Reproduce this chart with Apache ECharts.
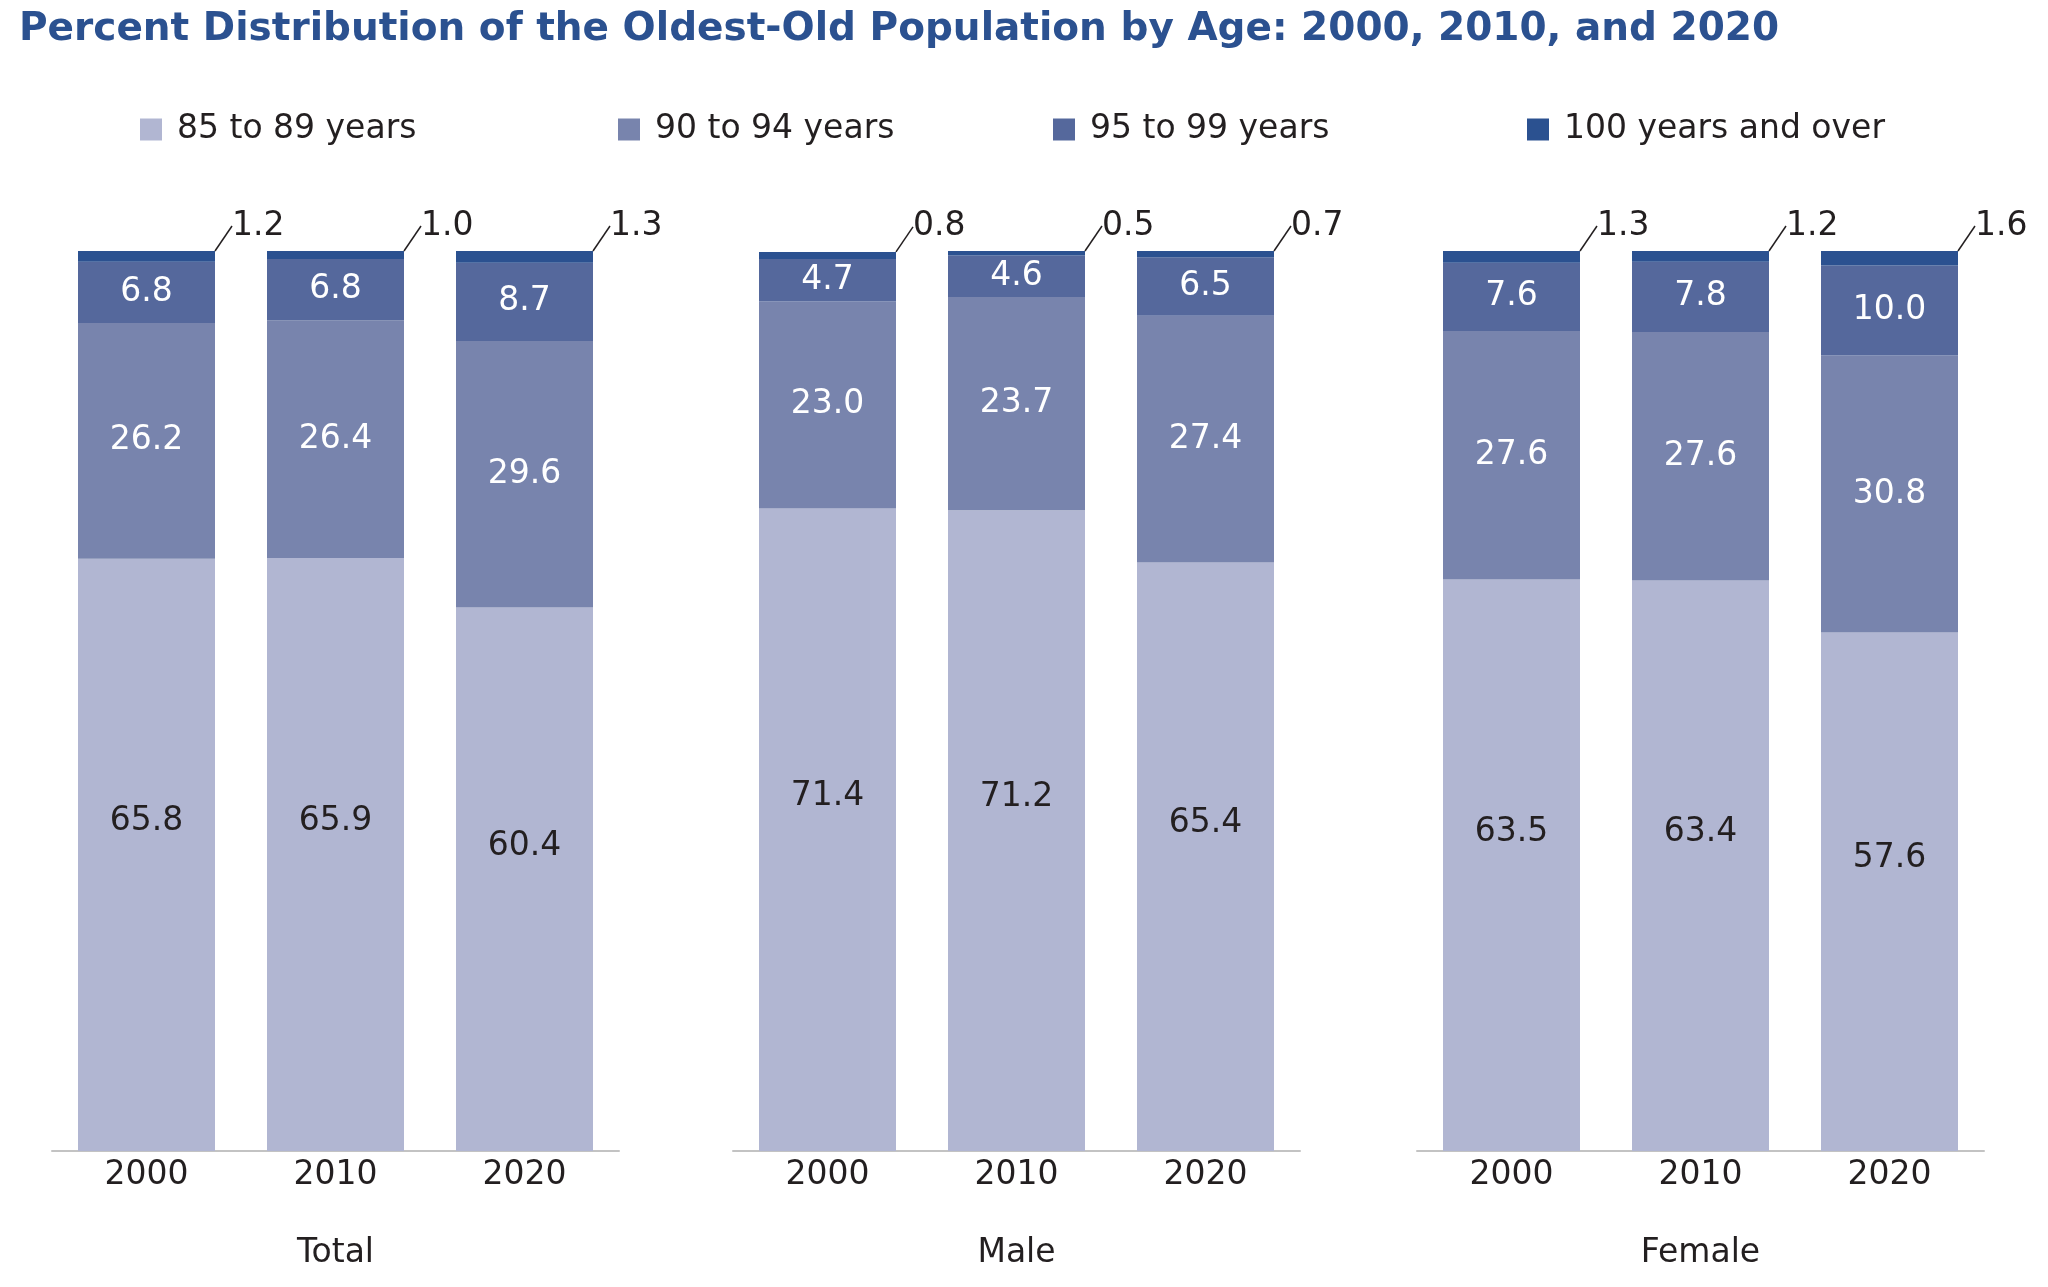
<!DOCTYPE html>
<html>
<head>
<meta charset="utf-8">
<script src="https://cdn.jsdelivr.net/npm/echarts@6/dist/echarts.min.js"></script>
<style>html,body{margin:0;padding:0;background:#fff}#c{width:2048px;height:1287px}</style>
</head>
<body>
<div id="c"></div>
<script>
const years = ['2000', '2010', '2020'];
const panels = ['Total', 'Male', 'Female'];
const ageGroups = ['85 to 89 years', '90 to 94 years', '95 to 99 years', '100 years and over'];

const total85 = [65.8, 65.9, 60.4];
const total90 = [26.2, 26.4, 29.6];
const total95 = [6.8, 6.8, 8.7];
const total100 = [1.2, 1.0, 1.3];

const male85 = [71.4, 71.2, 65.4];
const male90 = [23.0, 23.7, 27.4];
const male95 = [4.7, 4.6, 6.5];
const male100 = [0.8, 0.5, 0.7];

const female85 = [63.5, 63.4, 57.6];
const female90 = [27.6, 27.6, 30.8];
const female95 = [7.6, 7.8, 10.0];
const female100 = [1.3, 1.2, 1.6];

const panelData = [
  [total85, total90, total95, total100],
  [male85, male90, male95, male100],
  [female85, female90, female95, female100]
];

const colors = ['#b1b6d2', '#7884ad', '#55689c', '#2b5190'];
const FONT = '"DejaVu Sans", sans-serif';
const FS = 33;
const TXT = '#231f20';

const gridLefts = [52, 733, 1417];
const grids = gridLefts.map(l => ({ left: l, width: 567, top: 251, height: 900, containLabel: false }));

const xAxes = panels.map((p, i) => ({
  type: 'category', gridIndex: i, data: years,
  axisLine: { lineStyle: { color: '#c3c3c3', width: 2 } },
  axisTick: { show: false },
  axisLabel: { fontSize: FS, color: TXT, fontFamily: FONT, margin: 8 },
  name: p, nameLocation: 'middle', nameGap: 86,
  nameTextStyle: { fontSize: FS, color: TXT, fontFamily: FONT }
}));
const yAxes = panels.map((p, i) => ({
  type: 'value', gridIndex: i, min: 0, max: 100, show: false, splitLine: { show: false }
}));

const series = [];
panelData.forEach((arrs, pi) => {
  arrs.forEach((arr, si) => {
    const s = {
      type: 'bar', name: ageGroups[si], xAxisIndex: pi, yAxisIndex: pi,
      stack: 'p' + pi, barWidth: 137, data: arr,
      itemStyle: { color: colors[si] },
      label: {
        show: true, fontSize: FS, fontFamily: FONT,
        color: si === 0 ? TXT : '#fff',
        position: 'inside',
        formatter: p => p.value.toFixed(1)
      }
    };
    if (si === 0) s.label.offset = [0, -33];
    if (si === 3) {
      s.label = {
        show: true, fontSize: FS, fontFamily: FONT, color: TXT,
        position: ['100%', 0], align: 'left', verticalAlign: 'middle',
        offset: [17, -25],
        formatter: p => p.value.toFixed(1)
      };
      s.labelLine = { show: true, lineStyle: { color: TXT, width: 1.5 } };
    }
    series.push(s);
  });
});

const legendLefts = [140, 618, 1053, 1527];
const legends = ageGroups.map((g, i) => ({
  data: [g], left: legendLefts[i], top: 113, padding: 0,
  icon: 'rect', itemWidth: 22, itemHeight: 22, itemGap: 0,
  selectedMode: false,
  textStyle: { fontSize: FS, color: TXT, fontFamily: FONT, padding: [0, 0, 0, 10] }
}));

const chart = echarts.init(document.getElementById('c'));
chart.setOption({
  backgroundColor: '#fff',
  animation: false,
  color: colors,
  title: {
    text: 'Percent Distribution of the Oldest-Old Population by Age: 2000, 2010, and 2020',
    left: 14, top: 5,
    textStyle: { fontSize: 39, fontWeight: 'bold', color: '#2b5190', fontFamily: FONT }
  },
  legend: legends,
  grid: grids,
  xAxis: xAxes,
  yAxis: yAxes,
  series: series
});
</script>
</body>
</html>
